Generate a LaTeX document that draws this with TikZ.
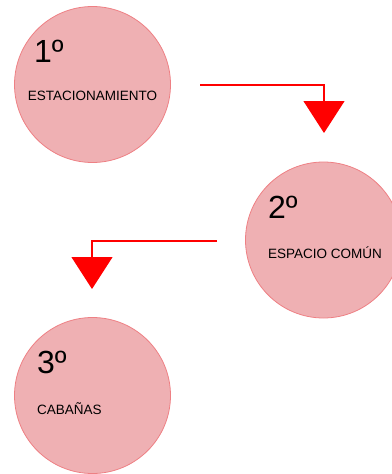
\documentclass[tikz,border=0pt]{standalone}
\usepackage{fontspec}
\setmainfont{Liberation Sans}
\usetikzlibrary{arrows.meta}
\definecolor{stagefill}{RGB}{239,176,179}
\definecolor{stageline}{RGB}{238,128,132}

\begin{document}
\begin{tikzpicture}[x=1pt,y=-1pt,
  stage/.style={circle,draw=stageline,fill=stagefill,line width=0.8pt,
    minimum size=156pt,inner sep=0pt},
  ordinal/.style={anchor=base west,inner sep=0pt,font=\fontsize{32}{32}\selectfont},
  stagetext/.style={anchor=base west,inner sep=0pt,font=\fontsize{13.5}{14}\selectfont},
  flow/.style={-{Triangle[width=41pt,length=32pt]},draw=red,line width=1.2pt}]
\useasboundingbox (0,0) rectangle (391,474);
\node[stage] (c1) at (92.5,84.5) {};
\node[stage] (c2) at (323.5,240) {};
\node[stage] (c3) at (92.5,395.5) {};
\node[ordinal] (n1) at (34,62) {1º};
\node[ordinal] (n2) at (268,218) {2º};
\node[ordinal] (n3) at (37,373) {3º};
\node[stagetext,anchor=base] (l1) at (92.5,100) {ESTACIONAMIENTO};
\node[stagetext] (l2) at (268,258) {ESPACIO COMÚN};
\node[stagetext] (l3) at (37,414) {CABAÑAS};
\coordinate (s1) at (200,85);
\coordinate (t1) at (324,133);
\coordinate (s2) at (217,241);
\coordinate (t2) at (92,289);
\draw[flow] (s1) -| (t1);
\draw[flow] (s2) -| (t2);
\end{tikzpicture}
\end{document}
